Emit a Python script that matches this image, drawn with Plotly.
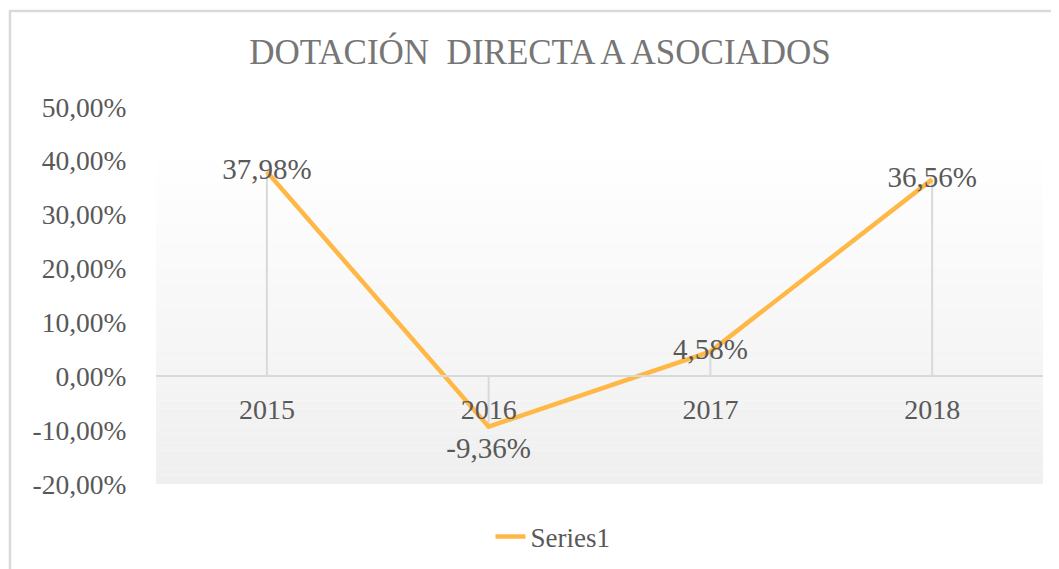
import plotly.graph_objects as go

categories = ["2015", "2016", "2017", "2018"]
values = [37.98, -9.36, 4.58, 36.56]
tick_values = [-20, -10, 0, 10, 20, 30, 40, 50]
series_name = "Series1"
title_text = "DOTACIÓN\u00a0 DIRECTA A ASOCIADOS"

W, H = 1059, 569
OFF = 8  # page body margin
# target plot area in page pixels: x 156..1043, y 107..484
ML = 156 - OFF
MT = 107 - OFF
MR = W - (1043 - OFF)
MB = H - (484 - OFF)
PW, PH = W - ML - MR, H - MT - MB
YMIN, YMAX = -20, 50

def px_to_paper_x(px):
    return (px - OFF - ML) / PW

def px_to_paper_y(py):
    return (H - MB - (py - OFF)) / PH

FONT = "Liberation Serif"
TXT = "#595959"
LINE = "#FFB845"
GRID = "#d9d9d9"

def pct(v):
    return f"{v:.2f}".replace(".", ",") + "%"

labels = [pct(v) for v in values]
tick_text = [pct(v) for v in tick_values]
positions = ["bottom center" if v < 0 else "middle center" for v in values]
marker_sizes = [13 if v < 0 else 1 for v in values]

fig = go.Figure()

# drop lines to zero (error bars)
fig.add_trace(go.Scatter(
    x=categories, y=values, mode="markers",
    marker=dict(size=0.1, color="rgba(0,0,0,0)"),
    error_y=dict(type="data", symmetric=False,
                 array=[max(-v, 0) for v in values],
                 arrayminus=[max(v, 0) for v in values],
                 color=GRID, thickness=2, width=0),
    showlegend=False, hoverinfo="skip",
))

fig.add_trace(go.Scatter(
    x=categories, y=values, mode="lines+markers+text", name=series_name,
    line=dict(color=LINE, width=4.5),
    marker=dict(size=marker_sizes, color="rgba(0,0,0,0)", opacity=0,
                line=dict(width=0, color="rgba(0,0,0,0)")),
    text=labels, textposition=positions,
    textfont=dict(family=FONT, size=29, color=TXT),
    cliponaxis=False,
))

# gradient plot-area background
shapes = []
top_val = 42.1
n = 40
for i in range(n):
    y0 = YMIN + (top_val - YMIN) * i / n
    y1 = YMIN + (top_val - YMIN) * (i + 1) / n
    t = (i + 0.5) / n  # 0 bottom -> 1 top
    c = int(round(239 + (255 - 239) * t))
    shapes.append(dict(type="rect", xref="paper", yref="y", x0=0, x1=1,
                       y0=y0, y1=y1, fillcolor=f"rgb({c},{c},{c})",
                       line=dict(width=0), layer="below"))
# chart border
shapes.append(dict(type="rect", xref="paper", yref="paper",
                   x0=px_to_paper_x(10), x1=px_to_paper_x(1090),
                   y0=px_to_paper_y(620), y1=px_to_paper_y(11),
                   line=dict(color=GRID, width=2.5), fillcolor="rgba(0,0,0,0)",
                   layer="below"))

fig.update_layout(
    width=W, height=H,
    margin=dict(l=ML, r=MR, t=MT, b=MB),
    paper_bgcolor="white", plot_bgcolor="white",
    shapes=shapes,
    title=dict(text=title_text, x=(540 - OFF) / W, xanchor="center", xref="container",
               y=1 - (52 - OFF) / H, yanchor="middle", yref="container",
               font=dict(family=FONT, size=35, color="#767676")),
    xaxis=dict(type="category", range=[-0.5, 3.5], anchor="free",
               position=(0 - YMIN) / (YMAX - YMIN),
               showline=True, linecolor=GRID, linewidth=2,
               showgrid=False, zeroline=False,
               ticks="outside", ticklen=8, tickcolor="rgba(0,0,0,0)",
               tickfont=dict(family=FONT, size=28, color=TXT)),
    yaxis=dict(range=[YMIN, YMAX], tickvals=tick_values, ticktext=tick_text,
               showgrid=False, zeroline=False, showline=False,
               ticks="outside", ticklen=23, tickcolor="rgba(0,0,0,0)",
               tickfont=dict(family=FONT, size=27.5, color=TXT)),
    showlegend=True,
    legend=dict(orientation="h", x=px_to_paper_x(553), xanchor="center",
                y=px_to_paper_y(537), yanchor="middle",
                font=dict(family=FONT, size=27, color=TXT),
                bgcolor="rgba(0,0,0,0)"),
)

fig.write_html("out.html")
